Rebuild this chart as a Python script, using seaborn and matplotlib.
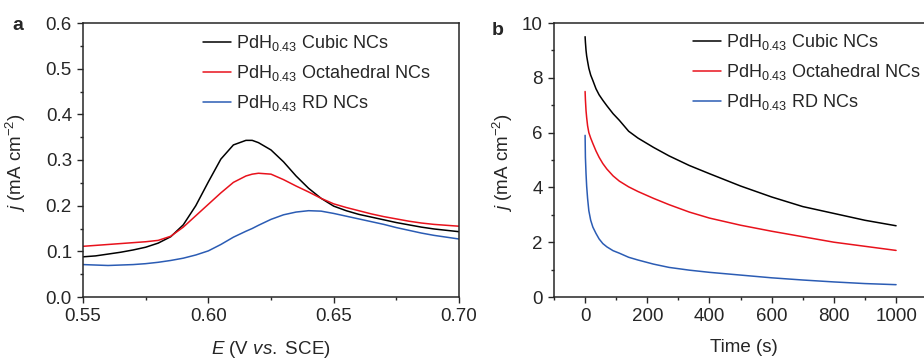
import numpy as np
import pandas as pd
import matplotlib
matplotlib.use('Agg')
import matplotlib.pyplot as plt
import seaborn as sns
from matplotlib.ticker import MultipleLocator

sns.set_style('ticks')
plt.rcParams['font.family'] = ['Liberation Sans', 'DejaVu Sans']
plt.rcParams['mathtext.fontset'] = 'custom'
plt.rcParams['mathtext.rm'] = 'Liberation Sans'
plt.rcParams['mathtext.it'] = 'Liberation Sans:italic'

labels = ['PdH$_{0.43}$ Cubic NCs', 'PdH$_{0.43}$ Octahedral NCs', 'PdH$_{0.43}$ RD NCs']
colors = ['black', '#e8121c', '#2b5cb4']

# panel a: LSV curves
E = [0.55, 0.555, 0.56, 0.565, 0.57, 0.575, 0.58, 0.585, 0.59, 0.595, 0.60, 0.605,
     0.61, 0.615, 0.6175, 0.62, 0.625, 0.63, 0.635, 0.64, 0.645, 0.65, 0.655, 0.66,
     0.665, 0.67, 0.675, 0.68, 0.685, 0.69, 0.695, 0.70]
j_cubic = [0.088, 0.090, 0.094, 0.098, 0.103, 0.109, 0.118, 0.132, 0.158, 0.200, 0.252, 0.302,
           0.333, 0.343, 0.343, 0.338, 0.322, 0.296, 0.265, 0.238, 0.216, 0.199, 0.189, 0.181,
           0.175, 0.169, 0.163, 0.158, 0.153, 0.149, 0.146, 0.143]
j_octa = [0.111, 0.113, 0.115, 0.117, 0.119, 0.121, 0.124, 0.133, 0.153, 0.178, 0.203, 0.228,
          0.251, 0.265, 0.269, 0.271, 0.269, 0.257, 0.243, 0.230, 0.216, 0.204, 0.196, 0.189,
          0.182, 0.176, 0.171, 0.166, 0.162, 0.159, 0.157, 0.155]
j_rd = [0.071, 0.070, 0.069, 0.070, 0.071, 0.073, 0.076, 0.080, 0.085, 0.092, 0.101, 0.115,
        0.131, 0.144, 0.150, 0.157, 0.170, 0.180, 0.186, 0.189, 0.188, 0.183, 0.177, 0.171,
        0.165, 0.159, 0.152, 0.146, 0.140, 0.135, 0.131, 0.127]

# panel b: chronoamperometry
t = [0, 1, 3, 5, 8, 12, 18, 25, 35, 45, 57, 70, 90, 110, 140, 170, 220, 270, 335,
     400, 500, 600, 700, 800, 900, 1000]
i_cubic = [9.5, 9.3, 9.0, 8.8, 8.6, 8.35, 8.1, 7.9, 7.6, 7.38, 7.18, 6.98, 6.69, 6.45, 6.05,
           5.8, 5.46, 5.15, 4.8, 4.5, 4.05, 3.65, 3.3, 3.05, 2.8, 2.6]
i_octa = [7.5, 7.2, 6.8, 6.55, 6.25, 6.0, 5.8, 5.6, 5.33, 5.1, 4.87, 4.67, 4.42, 4.23, 4.02,
          3.85, 3.6, 3.37, 3.1, 2.88, 2.62, 2.4, 2.2, 2.0, 1.85, 1.7]
i_rd = [5.9, 5.1, 4.5, 4.05, 3.6, 3.15, 2.8, 2.55, 2.32, 2.12, 1.95, 1.83, 1.69, 1.6, 1.45,
        1.35, 1.2, 1.08, 0.98, 0.9, 0.8, 0.7, 0.62, 0.55, 0.49, 0.45]

dfa = pd.concat([pd.DataFrame({'E': E, 'j': v, 'sample': lab})
                 for v, lab in zip([j_cubic, j_octa, j_rd], labels)])
dfb = pd.concat([pd.DataFrame({'t': t, 'j': v, 'sample': lab})
                 for v, lab in zip([i_cubic, i_octa, i_rd], labels)])

fig = plt.figure(figsize=(9.24, 3.61), dpi=100)
ax1 = fig.add_axes([83 / 924, 1 - 297 / 361, 376 / 924, 274 / 361])
ax2 = fig.add_axes([554 / 924, 1 - 297 / 361, 379.4 / 924, 274 / 361])

pal = dict(zip(labels, colors))
sns.lineplot(data=dfa, x='E', y='j', hue='sample', palette=pal, ax=ax1, lw=1.1)
sns.lineplot(data=dfb, x='t', y='j', hue='sample', palette=pal, ax=ax2, lw=1.1)

ax1.set_xlim(0.55, 0.70)
ax1.set_ylim(0, 0.6)
ax1.xaxis.set_minor_locator(MultipleLocator(0.025))
ax1.yaxis.set_minor_locator(MultipleLocator(0.05))
ax1.set_xticks([0.55, 0.60, 0.65, 0.70], ['0.55', '0.60', '0.65', '0.70'])
ax1.set_yticks(np.arange(0, 0.61, 0.1), ['0.0', '0.1', '0.2', '0.3', '0.4', '0.5', '0.6'])
ax1.set_xlabel('$\\it{E}$ (V $\\it{vs.}$ SCE)', fontsize=13.5, labelpad=10)
ax1.set_ylabel('$\\it{j}$ (mA cm$^{-2}$)', fontsize=13.5)
ax1.yaxis.set_label_coords(-0.146, 0.49)

ax2.set_xlim(-100, 1120)
ax2.set_ylim(0, 10)
ax2.xaxis.set_major_locator(MultipleLocator(200))
ax2.xaxis.set_minor_locator(MultipleLocator(100))
ax2.yaxis.set_major_locator(MultipleLocator(2))
ax2.yaxis.set_minor_locator(MultipleLocator(1))
ax2.set_xlabel('Time (s)', fontsize=13.5, labelpad=10)
ax2.set_ylabel('$\\it{j}$ (mA cm$^{-2}$)', fontsize=13.5)
ax2.yaxis.set_label_coords(-0.103, 0.49)

leg_pos = [(203 / 924, 1 - 33 / 361), (693 / 924, 1 - 32 / 361)]
for ax, pos in zip((ax1, ax2), leg_pos):
    for s in ax.spines.values():
        s.set_linewidth(1.1)
    ax.tick_params(which='major', direction='out', length=4, width=1, labelsize=13.5, pad=4)
    ax.tick_params(which='minor', direction='out', length=2.5, width=1)
    ax.legend(loc='upper left', bbox_to_anchor=pos, bbox_transform=fig.transFigure,
              frameon=False, fontsize=13, handlelength=1.55, handletextpad=0.25,
              labelspacing=0.56, borderpad=0, borderaxespad=0)

fig.text(12 / 924, 1 - 30 / 361, 'a', fontsize=14, fontweight='bold')
fig.text(492 / 924, 1 - 35 / 361, 'b', fontsize=14, fontweight='bold')

fig.savefig('out.png', dpi=100)
